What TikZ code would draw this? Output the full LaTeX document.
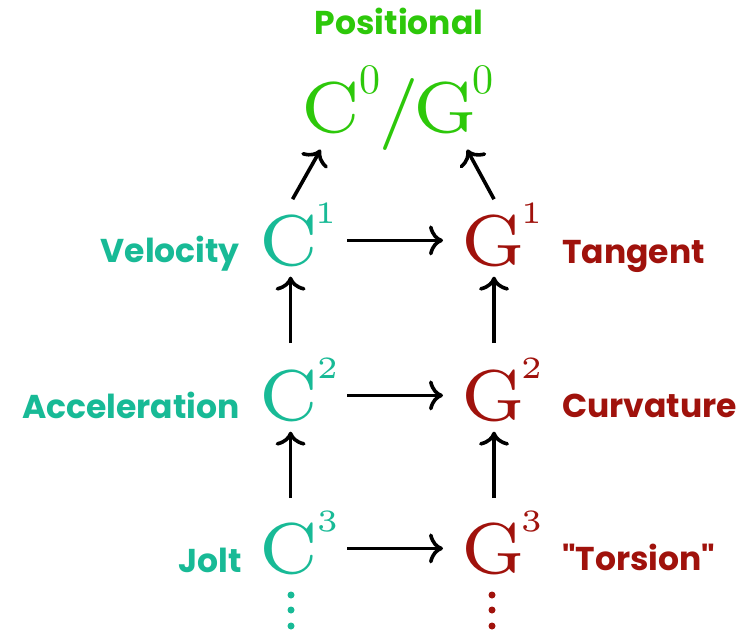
\documentclass[tikz,border=0pt]{standalone}
\usepackage{fontspec}
\setmainfont{Latin Modern Roman}
\newfontfamily\bigfont{lmroman7-regular.otf}
\newfontfamily\supfont{lmroman5-regular.otf}
\newfontfamily\topsupfont{lmroman10-regular.otf}
\newfontfamily\labfont{Poppins}
\usetikzlibrary{arrows.meta}
\definecolor{posgreen}{RGB}{45,200,10}
\definecolor{cteal}{RGB}{24,186,150}
\definecolor{gred}{RGB}{160,18,12}
\newcommand{\supsm}[2]{\rlap{\smash{\kern#1\raisebox{42pt}{\supfont\fontsize{31}{31}\selectfont #2}}}}
\newcommand{\suptop}[2]{\rlap{\smash{\kern#1\raisebox{39pt}{\topsupfont\fontsize{42}{42}\selectfont #2}}}}
\begin{document}
\begin{tikzpicture}[x=1pt,y=1pt,
  big/.style={inner sep=0pt, anchor=base west, font=\bigfont\fontsize{72}{72}\selectfont},
  lab/.style={inner sep=0pt, font=\labfont\bfseries\fontsize{33}{33}\selectfont},
  arr/.style={line width=3.6pt, -{Computer Modern Rightarrow[length=14pt,width=30pt]}},
  dotc/.style={circle, inner sep=0pt, minimum size=7pt}]
\useasboundingbox (0,0) rectangle (738,-632);
\fill[white] (0,0) rectangle (738,-632);
% top
\node[big, text=posgreen] (c0) at (301,-132) {C\suptop{0pt}{0}};
\node[big, text=posgreen] (sl) at (378,-132) {/};
\node[big, text=posgreen] (g0) at (413,-132) {G\suptop{-4pt}{0}};
% rows
\node[big, text=cteal] (c1) at (259,-265) {C\supsm{-3pt}{1}};
\node[big, text=cteal] (c2) at (259,-420) {C\supsm{-1pt}{2}};
\node[big, text=cteal] (c3) at (259,-573) {C\supsm{-1pt}{3}};
\node[big, text=gred] (g1) at (461,-265) {G\supsm{-4pt}{1}};
\node[big, text=gred] (g2) at (461,-420) {G\supsm{-4pt}{2}};
\node[big, text=gred] (g3) at (461,-573) {G\supsm{-4pt}{3}};
% labels
\node[lab, text=posgreen, anchor=base] (lpos) at (399,-34) {Positional};
\node[lab, text=cteal, anchor=base east] (lvel) at (240,-262) {Velocity};
\node[lab, text=cteal, anchor=base east] (lacc) at (240,-418) {Acceleration};
\node[lab, text=cteal, anchor=base east] (ljolt) at (242,-572) {Jolt};
\node[lab, text=gred, anchor=base west] (ltan) at (562,-263) {Tangent};
\node[lab, text=gred, anchor=base west] (lcur) at (562,-417) {Curvature};
\node[lab, text=gred, anchor=base west] (ltor) at (562,-570) {"Torsion"};
% dots
\foreach \i/\y in {1/595,2/610,3/626}{
  \node[dotc, fill=cteal] (cd\i) at (291,-\y) {};
  \node[dotc, fill=gred] (gd\i) at (492,-\y) {};
}
% horizontal arrows
\foreach \r in {1,2,3}{
  \draw[arr, shorten <=29pt, shorten >=18pt] (c\r) -- (g\r);
}
% vertical arrows
\draw[arr, shorten <=26pt, shorten >=10pt] ([xshift=2pt]c2.north) -- ([xshift=2pt]c1.south);
\draw[arr, shorten <=24pt, shorten >=10pt] ([xshift=2pt]c3.north) -- ([xshift=2pt]c2.south);
\draw[arr, shorten <=26pt, shorten >=10pt] ([xshift=1pt]g2.north) -- ([xshift=1pt]g1.south);
\draw[arr, shorten <=24pt, shorten >=10pt] ([xshift=1pt]g3.north) -- ([xshift=1pt]g2.south);
% diagonal arrows
\draw[arr] ([shift={(4pt,15pt)}]c1.north) -- ([shift={(-10pt,-16pt)}]c0.south);
\draw[arr] ([shift={(1pt,15pt)}]g1.north) -- ([shift={(22pt,-16pt)}]g0.south);
\end{tikzpicture}
\end{document}
